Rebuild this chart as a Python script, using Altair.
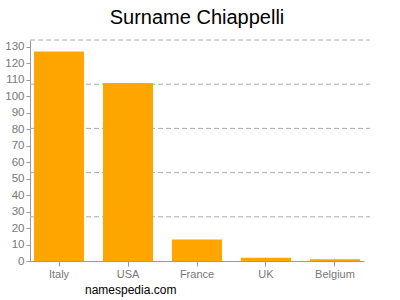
import altair as alt
import pandas as pd

countries = ["Italy", "USA", "France", "UK", "Belgium"]
counts = [127, 108, 13, 2, 1]
grid_values = [26.8, 53.6, 80.4, 107.2, 134]

df = pd.DataFrame({"country": countries, "count": counts})
grid = pd.DataFrame({"g": grid_values})

yscale = alt.Scale(domain=[0, 134], nice=False)

bars = alt.Chart(df).mark_bar(color="#ffa500").encode(
    x=alt.X("country:N", sort=countries, title=None,
            scale=alt.Scale(paddingInner=0.275, paddingOuter=0.058),
            axis=alt.Axis(labelAngle=0, labelColor="#777", labelFontSize=11,
                          domainColor="#999", tickColor="#999", labelPadding=2,
                          labelFont="Liberation Sans")),
    y=alt.Y("count:Q", scale=yscale, title=None,
            axis=alt.Axis(values=list(range(0, 131, 10)), grid=False, labelOverlap=False,
                          labelColor="#777", labelFontSize=11.5, domainColor="#999",
                          tickColor="#999", tickSize=4, labelPadding=2,
                          labelFont="Liberation Sans")),
)

rules = alt.Chart(grid).mark_rule(color="#aaa", strokeDash=[5, 3], strokeWidth=1).encode(
    y=alt.Y("g:Q", scale=yscale, axis=None),
    x=alt.value(0), x2=alt.value(340),
)

footer = alt.Chart(pd.DataFrame({"t": ["namespedia.com"]})).mark_text(
    align="left", baseline="middle", fontSize=12, color="#000", font="Liberation Sans"
).encode(x=alt.value(55), y=alt.value(250), text="t:N")

chart = alt.layer(rules, bars, footer).resolve_scale(y="independent").properties(
    width=334, height=221,
    autosize=alt.AutoSizeParams(type="none"),
    padding={"left": 30, "top": 40, "right": 36, "bottom": 39},
    title=alt.TitleParams("Surname Chiappelli", fontSize=20, fontWeight="normal",
                          font="Liberation Sans", color="#000", offset=12, anchor="middle"),
).configure_view(stroke=None)

chart.save("out.html", embed_options={"renderer": "svg", "actions": False})
